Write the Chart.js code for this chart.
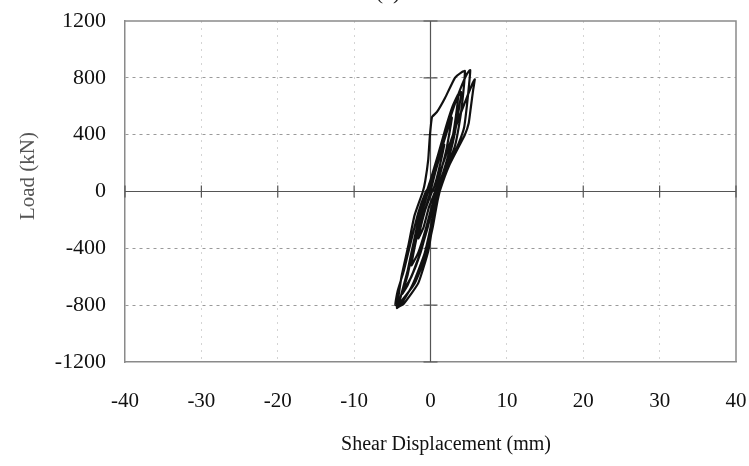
<!DOCTYPE html>
<html lang="en">
<head>
<meta charset="UTF-8">
<title>Load - Shear Displacement</title>
<script src="https://cdn.jsdelivr.net/npm/chart.js"></script>
<style>
    body { margin: 0; background: #fff; }
    .chart-box { position: relative; width: 749px; height: 466px; }
</style>
</head>
<body>
<div class="chart-box"><canvas id="hysteresisChart"></canvas></div>
<script>
    // Cyclic test record: shear displacement (mm) and load (kN), seven cycles
    const disp = [
        0.3, 0.8, 1.3, 1.8, 1.3, 0.6, 0.0, -0.6, -1.2, -1.6, -0.9, -0.2,
        0.6, 1.3, 2.1, 2.8, 2.2, 1.3, 0.4, -0.3, -1.0, -1.8, -2.5, -1.6, -0.6, 0.2,
        0.8, 1.7, 2.7, 3.3, 3.6, 2.9, 2.0, 1.0, 0.0, -0.5, -1.4, -2.3, -3.0, -3.4, -2.5, -1.3, -0.3, 0.4,
        1.0, 1.9, 2.9, 3.6, 4.0, 3.3, 2.3, 1.3, 0.3, -0.3, -1.3, -2.2, -3.0, -3.7, -3.0, -1.6, -0.4, 0.4,
        1.0, 2.0, 3.2, 3.9, 4.3, 4.5, 4.1, 3.2, 1.9, 0.85, 0.2, -0.1, -0.3, -0.7, -1.0,
        -2.1, -2.9, -3.8, -4.2, -4.4, -3.7, -2.3, -0.8, 0.1, 0.6,
        1.1, 2.4, 3.7, 4.4, 4.8, 5.1, 5.2, 4.8, 3.9, 2.9, 1.8, 0.7, -0.2, -0.6,
        -1.6, -2.6, -3.5, -4.3, -4.6, -3.8, -2.1, -0.6, 0.3, 0.8,
        1.2, 2.5, 4.5, 5.0, 5.3, 5.6, 5.8, 5.5, 4.6, 3.6, 2.5, 1.4, 0.4, 0.2,
        -0.9, -2.0, -3.1, -3.8, -4.2, -3.5, -1.6, -0.3, 0.4, 0.9, 1.2
    ];
    const load = [
        0, 90, 200, 330, 260, 130, 0, -110, -230, -330, -250, -110,
        0, 130, 300, 520, 430, 270, 110, 0, -130, -320, -520, -430, -260, -100,
        0, 140, 330, 520, 680, 600, 450, 260, 80, 0, -160, -380, -560, -680, -600, -430, -230, -80,
        0, 150, 340, 540, 700, 640, 480, 300, 110, 0, -170, -380, -590, -720, -660, -470, -260, -90,
        0, 150, 320, 520, 700, 848, 840, 800, 658, 560, 524, 380, 222, 70, 0,
        -170, -380, -600, -740, -820, -780, -650, -440, -230, -80,
        0, 180, 340, 450, 620, 780, 855, 830, 720, 570, 390, 190, 30, 0,
        -150, -360, -560, -700, -800, -770, -650, -450, -250, -100,
        0, 190, 400, 480, 600, 720, 790, 760, 640, 500, 330, 160, 20, 0,
        -160, -360, -580, -720, -810, -790, -645, -420, -200, -70, 0
    ];

    const xRange = [-40, 40];
    const xStep = 10;
    const yRange = [-1200, 1200];
    const yStep = 400;

    const serif = '"Liberation Serif", "Times New Roman", serif';

    // frame, zero axes with their cross ticks, axis and panel labels
    const crossAxes = {
        id: 'crossAxes',
        beforeDatasetsDraw(chart) {
            const { ctx, chartArea: a, scales: { x, y } } = chart;
            const x0 = x.getPixelForValue(0);
            const y0 = y.getPixelForValue(0);
            ctx.save();
            ctx.strokeStyle = '#8a8a8a';
            ctx.lineWidth = 1.5;
            ctx.beginPath();
            ctx.moveTo(a.left, a.top);
            ctx.lineTo(a.right, a.top);
            ctx.lineTo(a.right, a.bottom);
            ctx.stroke();

            ctx.strokeStyle = '#555';
            ctx.lineWidth = 1.2;
            ctx.beginPath();
            ctx.moveTo(x0, a.top);
            ctx.lineTo(x0, a.bottom);
            ctx.moveTo(a.left, y0);
            ctx.lineTo(a.right, y0);
            x.ticks.forEach(t => {
                const px = x.getPixelForValue(t.value);
                ctx.moveTo(px, y0 - 6);
                ctx.lineTo(px, y0 + 6);
            });
            y.ticks.forEach(t => {
                const py = y.getPixelForValue(t.value);
                ctx.moveTo(x0 - 7, py);
                ctx.lineTo(x0 + 7, py);
            });
            ctx.stroke();
            ctx.restore();
        },
        afterDraw(chart) {
            const ctx = chart.ctx;
            ctx.save();
            ctx.font = '22px ' + serif;
            ctx.fillStyle = '#222';
            ctx.textAlign = 'center';
            ctx.textBaseline = 'alphabetic';
            ctx.fillText('(a)', 388, -1);

            ctx.font = '20px ' + serif;
            ctx.fillStyle = '#111';
            ctx.textBaseline = 'middle';
            ctx.fillText('Shear Displacement (mm)', 446, 445);

            ctx.translate(28, 176);
            ctx.rotate(-Math.PI / 2);
            ctx.font = '21px ' + serif;
            ctx.fillStyle = '#555';
            ctx.fillText('Load (kN)', 0, 0);
            ctx.restore();
        }
    };

    const hideEdges = (max, color) => c => {
        const v = c.tick ? c.tick.value : null;
        if (v === 0 || Math.abs(v) === max) return 'rgba(0,0,0,0)';
        return color;
    };

    const points = disp.map((d, i) => ({ x: d, y: load[i] }));

    new Chart(document.getElementById('hysteresisChart'), {
        type: 'scatter',
        data: {
            datasets: [{
                data: points,
                showLine: true,
                borderColor: '#111',
                borderWidth: 2.2,
                pointRadius: 0,
                tension: 0.15,
                fill: false
            }]
        },
        options: {
            responsive: true,
            maintainAspectRatio: false,
            animation: false,
            devicePixelRatio: 1,
            layout: { padding: { top: 21, right: 13, bottom: 0, left: 0 } },
            plugins: {
                legend: { display: false },
                tooltip: { enabled: false }
            },
            scales: {
                x: {
                    type: 'linear',
                    min: xRange[0],
                    max: xRange[1],
                    afterFit: s => {
                        s.height = 104;
                        s.paddingLeft = 0;
                        s.paddingRight = 0;
                    },
                    ticks: {
                        stepSize: xStep,
                        color: '#111',
                        padding: 27,
                        maxRotation: 0,
                        font: { family: serif, size: 21 },
                        callback: v => String(v)
                    },
                    grid: {
                        drawTicks: false,
                        lineWidth: 1,
                        color: hideEdges(40, '#d4d4d4')
                    },
                    border: { display: true, color: '#8a8a8a', width: 1.5, dash: [2, 5] },
                    title: { display: false }
                },
                y: {
                    type: 'linear',
                    min: yRange[0],
                    max: yRange[1],
                    afterFit: s => {
                        s.width = 125;
                        s.paddingTop = 0;
                        s.paddingBottom = 0;
                    },
                    ticks: {
                        stepSize: yStep,
                        color: '#111',
                        padding: 19,
                        font: { family: serif, size: 22 },
                        callback: v => String(v)
                    },
                    grid: {
                        drawTicks: false,
                        lineWidth: 1,
                        color: hideEdges(1200, '#9a9a9a')
                    },
                    border: { display: true, color: '#8a8a8a', width: 1.5, dash: [3, 4] },
                    title: { display: false }
                }
            }
        },
        plugins: [crossAxes]
    });
</script>
</body>
</html>
